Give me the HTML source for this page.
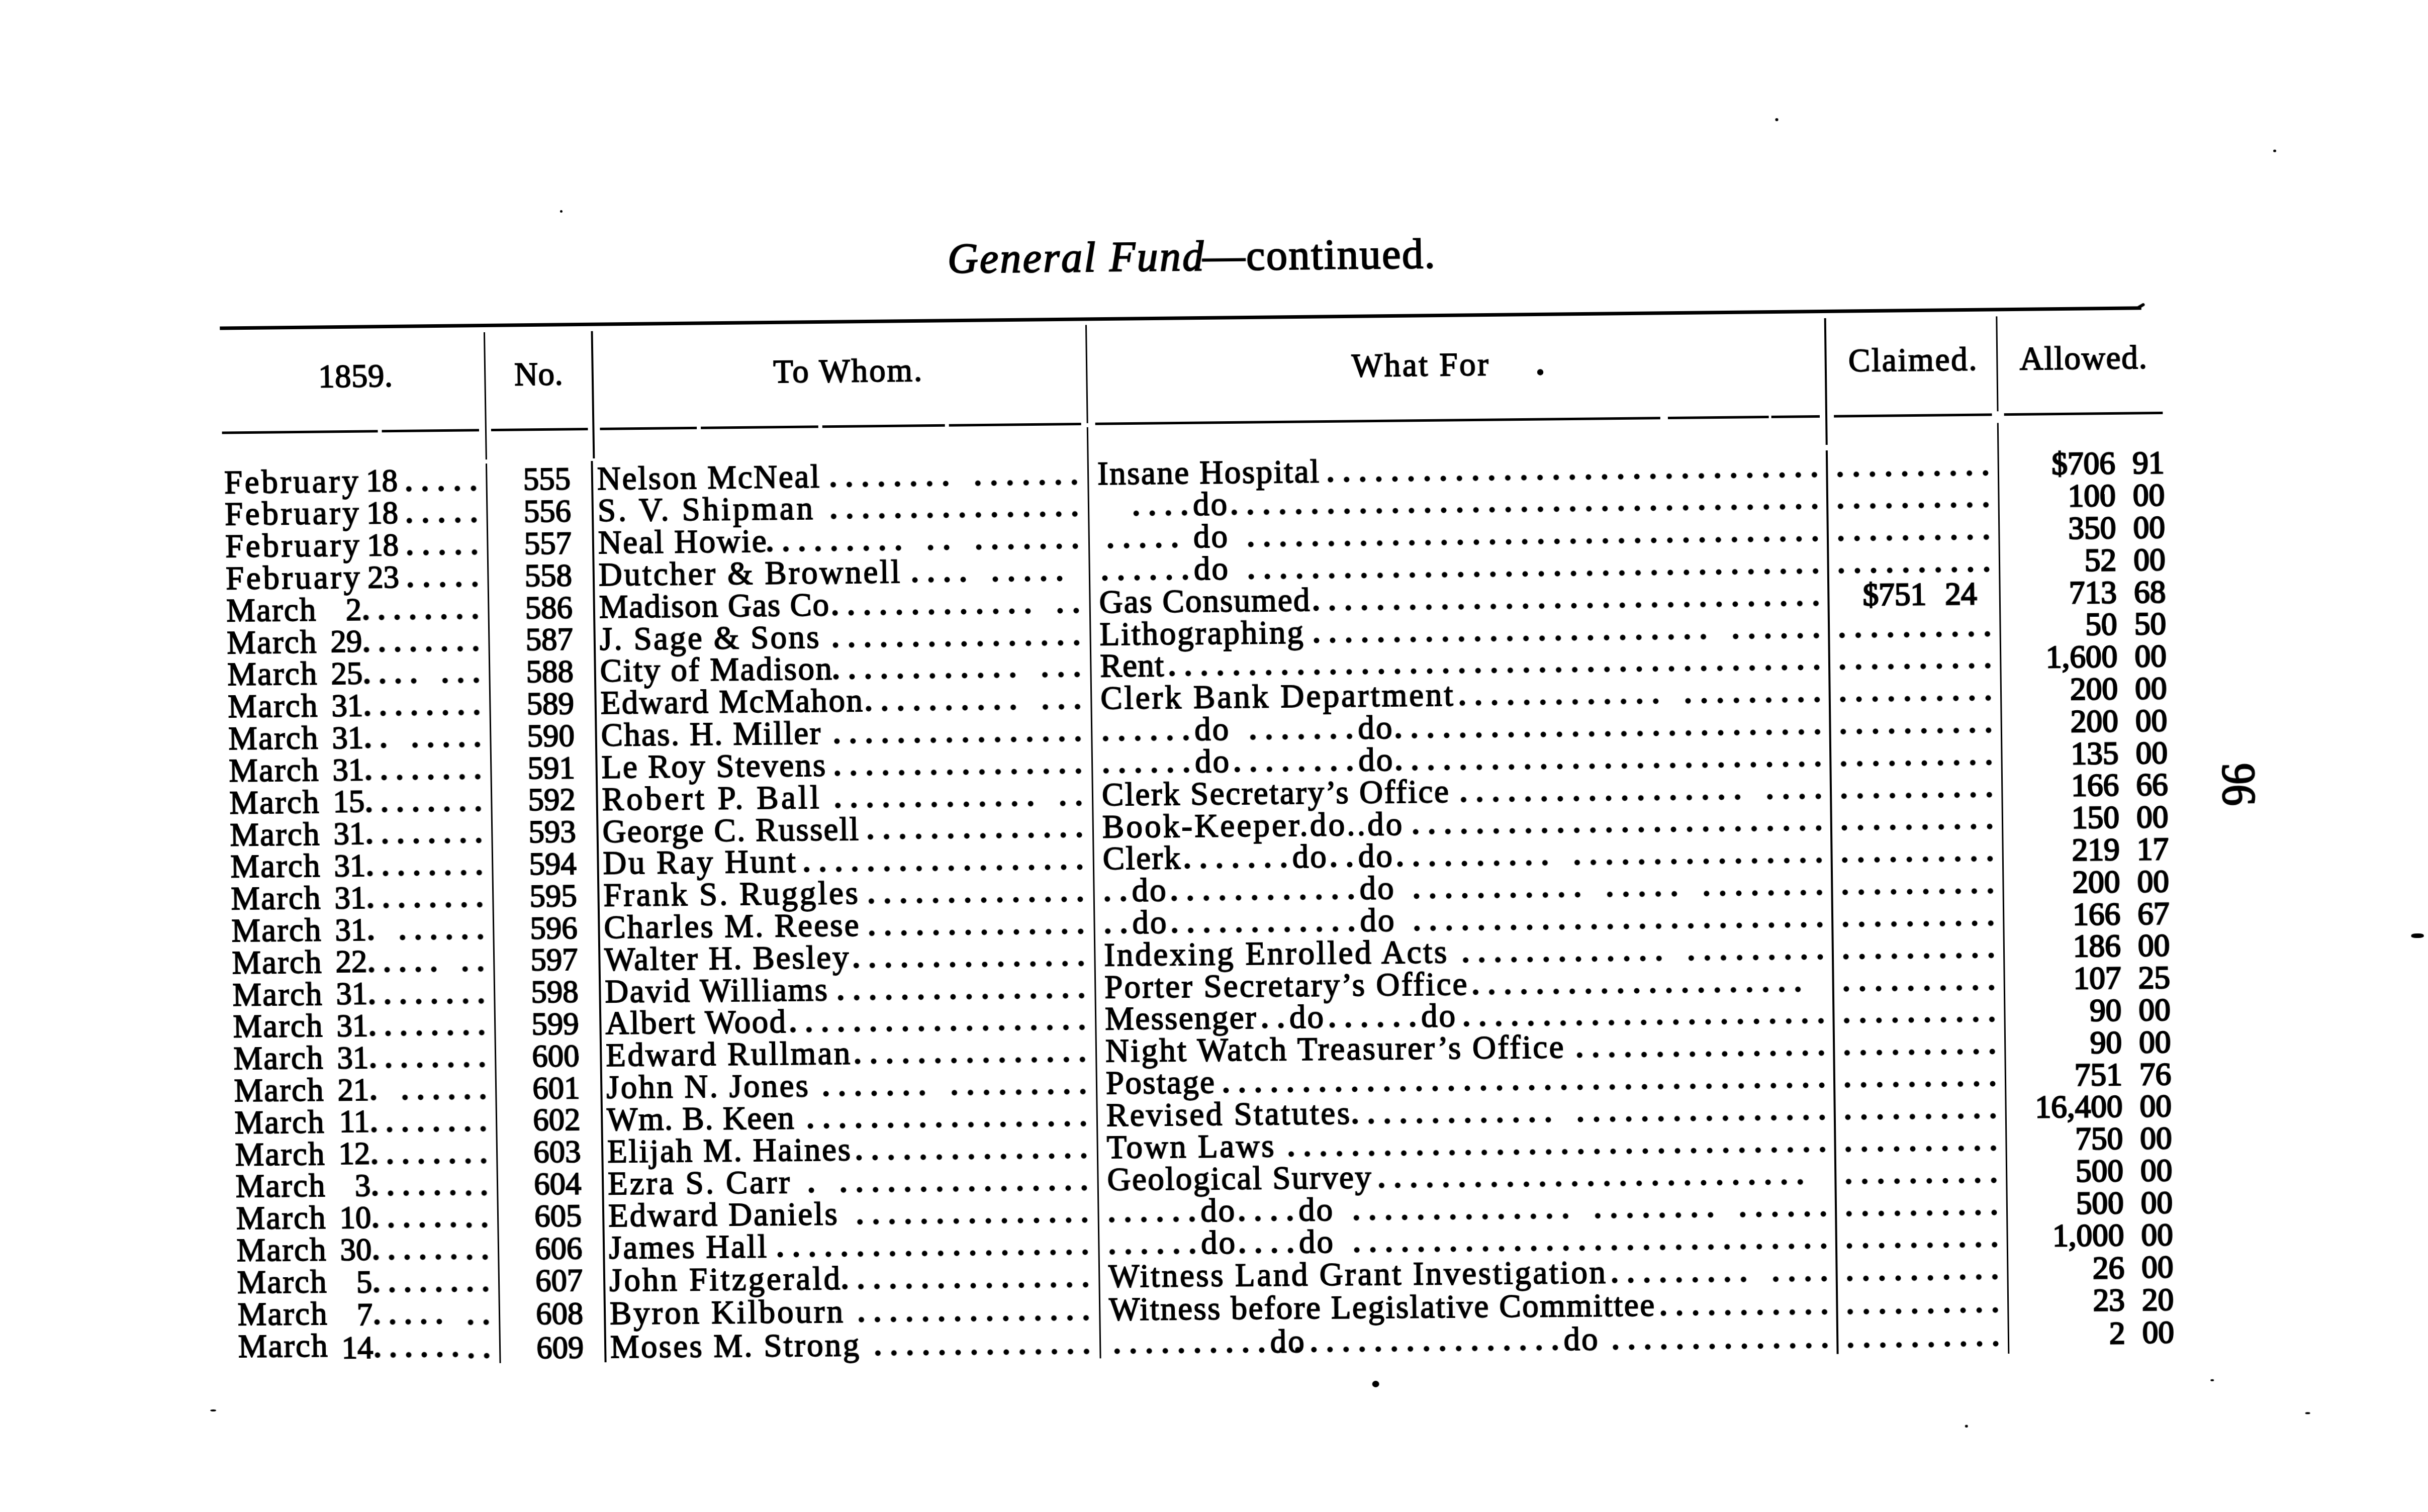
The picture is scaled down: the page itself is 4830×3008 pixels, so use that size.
<!DOCTYPE html>
<html><head><meta charset="utf-8"><title>General Fund continued</title><style>
html,body{margin:0;padding:0;background:#fff;}
body{width:4830px;height:3008px;overflow:hidden;position:relative;}
#pg{position:absolute;left:0;top:0;width:4830px;height:3008px;transform-origin:0 0;transform:matrix3d(0.99610535,-0.01129445,0,-0.0000012431,0.01662082,1.00144269,0,0.0000012519,0,0,1,0,-25.35881,24.88257,0,1.00000000);}
.t{position:absolute;font-family:"Liberation Serif",serif;line-height:1;white-space:pre;color:#000;transform-origin:0 0;-webkit-text-stroke:1.8px #000;}
.t.r{transform-origin:100% 0;}
.t.n{-webkit-text-stroke:2.0px #000;}
.t.nb{-webkit-text-stroke:2.6px #000;}
.rule,.sp{position:absolute;background:#000;}
.vr{position:absolute;width:3.8px;background:#000;}
.ld{position:absolute;height:32.0px;background-image:radial-gradient(circle at center,#000 4.8px,rgba(0,0,0,0) 6.0px);background-size:32.0px 32.0px;background-repeat:repeat-x;}
</style></head>
<body><div id="pg">
<div class="t" style="left:1906px;top:468.3px;font-size:84px;font-style:italic;letter-spacing:3.2px;-webkit-text-stroke:2.2px #000">General Fund</div>
<div class="t" style="left:2413px;top:468.3px;font-size:84px;letter-spacing:2.5px;-webkit-text-stroke:2.2px #000">—continued.</div>
<div class="rule" style="left:454px;top:628.5px;width:3818px;height:7px"></div>
<div class="rule" style="left:4266px;top:628.5px;width:16px;height:6px;border-radius:3px;transform:rotate(-30deg);transform-origin:0 100%"></div>
<div class="rule" style="left:455px;top:838px;width:311px;height:4.5px"></div>
<div class="rule" style="left:774px;top:838px;width:194px;height:4.5px"></div>
<div class="rule" style="left:992px;top:838px;width:193px;height:4.5px"></div>
<div class="rule" style="left:1209px;top:838px;width:193px;height:4.5px"></div>
<div class="rule" style="left:1410px;top:838px;width:234px;height:4.5px"></div>
<div class="rule" style="left:1652px;top:838px;width:244px;height:4.5px"></div>
<div class="rule" style="left:1904px;top:838px;width:263px;height:4.5px"></div>
<div class="rule" style="left:2195px;top:838px;width:1122px;height:4.5px"></div>
<div class="rule" style="left:3332px;top:838px;width:200px;height:4.5px"></div>
<div class="rule" style="left:3537px;top:838px;width:96px;height:4.5px"></div>
<div class="rule" style="left:3661px;top:838px;width:313px;height:4.5px"></div>
<div class="rule" style="left:3998px;top:838px;width:314px;height:4.5px"></div>
<div class="vr" style="left:979.7px;top:646px;height:253px"></div>
<div class="vr" style="left:979.7px;top:907px;height:1793px"></div>
<div class="vr" style="left:1194.1px;top:646px;height:253px"></div>
<div class="vr" style="left:1190.1px;top:904px;height:1796px"></div>
<div class="vr" style="left:2177.6px;top:644px;height:195px"></div>
<div class="vr" style="left:2177.6px;top:847px;height:1853px"></div>
<div class="vr" style="left:3644.1px;top:646px;height:251px"></div>
<div class="vr" style="left:3644.1px;top:908px;height:1795px"></div>
<div class="vr" style="left:3983.7px;top:646px;height:188px"></div>
<div class="vr" style="left:3983.7px;top:857px;height:1848px"></div>
<div class="t" style="left:649.0px;top:698.0px;font-size:65px;font-weight:normal;letter-spacing:0.5px;font-style:normal">1859.</div>
<div class="t" style="left:1040.0px;top:698.0px;font-size:65px;font-weight:normal;letter-spacing:0.5px;font-style:normal">No.</div>
<div class="t" style="left:1556.0px;top:698.0px;font-size:65px;font-weight:normal;letter-spacing:2.86px;font-style:normal">To Whom.</div>
<div class="t" style="left:2706.0px;top:698.0px;font-size:65px;font-weight:normal;letter-spacing:3.43px;font-style:normal">What For</div>
<div class="t" style="left:3691.0px;top:698.0px;font-size:65px;font-weight:normal;letter-spacing:2.57px;font-style:normal">Claimed.</div>
<div class="t" style="left:4030.0px;top:698.0px;font-size:65px;font-weight:normal;letter-spacing:1.71px;font-style:normal">Allowed.</div>
<div class="t" style="left:3072px;top:698.0px;font-size:65px;font-weight:bold">.</div>
<div class="t" style="left:458.0px;top:906.5px;font-size:65px;font-weight:normal;letter-spacing:4.71px;font-style:normal">February</div>
<div class="t n" style="left:741.0px;top:908.2px;font-size:63px;font-weight:normal;letter-spacing:0.0px;font-style:normal">18</div>
<div class="ld" style="left:809.9px;top:939.5px;width:161.2px;background-size:32.25px 32.0px"></div>
<div class="t r n" style="right:3681.0px;top:908.2px;font-size:63px;font-weight:normal;letter-spacing:0.0px">555</div>
<div class="t" style="left:1202.0px;top:906.5px;font-size:65px;font-weight:normal;letter-spacing:2.75px;font-style:normal">Nelson McNeal</div>
<div class="ld" style="left:1656.0px;top:939.5px;width:192.0px;background-size:32.00px 32.0px"></div>
<div class="ld" style="left:1848.0px;top:939.5px;width:64.0px;background-size:32.00px 32.0px"></div>
<div class="ld" style="left:1944.0px;top:939.5px;width:192.0px;background-size:32.00px 32.0px"></div>
<div class="ld" style="left:2136.0px;top:939.5px;width:32.0px;background-size:32.00px 32.0px"></div>
<div class="t" style="left:2198.0px;top:906.5px;font-size:65px;font-weight:normal;letter-spacing:2.46px;font-style:normal">Insane Hospital</div>
<div class="ld" style="left:2644.5px;top:939.5px;width:192.0px;background-size:32.00px 32.0px"></div>
<div class="ld" style="left:2836.5px;top:939.5px;width:192.0px;background-size:32.00px 32.0px"></div>
<div class="ld" style="left:3028.5px;top:939.5px;width:192.0px;background-size:32.00px 32.0px"></div>
<div class="ld" style="left:3220.5px;top:939.5px;width:192.0px;background-size:32.00px 32.0px"></div>
<div class="ld" style="left:3412.5px;top:939.5px;width:192.0px;background-size:32.00px 32.0px"></div>
<div class="ld" style="left:3604.5px;top:939.5px;width:32.0px;background-size:32.00px 32.0px"></div>
<div class="ld" style="left:3656.0px;top:939.5px;width:192.0px;background-size:32.00px 32.0px"></div>
<div class="ld" style="left:3848.0px;top:939.5px;width:128.0px;background-size:32.00px 32.0px"></div>
<div class="t r nb" style="right:613.0px;top:908.2px;font-size:63px;font-weight:normal;letter-spacing:0.0px">$706</div>
<div class="t r nb" style="right:516.0px;top:908.2px;font-size:63px;font-weight:normal;letter-spacing:0.0px">91</div>
<div class="t" style="left:458.0px;top:970.4px;font-size:65px;font-weight:normal;letter-spacing:4.71px;font-style:normal">February</div>
<div class="t n" style="left:741.0px;top:972.0px;font-size:63px;font-weight:normal;letter-spacing:0.0px;font-style:normal">18</div>
<div class="ld" style="left:809.9px;top:1003.3px;width:161.2px;background-size:32.25px 32.0px"></div>
<div class="t r n" style="right:3681.0px;top:972.0px;font-size:63px;font-weight:normal;letter-spacing:0.0px">556</div>
<div class="t" style="left:1202.0px;top:970.4px;font-size:65px;font-weight:normal;letter-spacing:4.92px;font-style:normal">S. V. Shipman</div>
<div class="ld" style="left:1656.0px;top:1003.3px;width:192.0px;background-size:32.00px 32.0px"></div>
<div class="ld" style="left:1848.0px;top:1003.3px;width:192.0px;background-size:32.00px 32.0px"></div>
<div class="ld" style="left:2040.0px;top:1003.3px;width:128.0px;background-size:32.00px 32.0px"></div>
<div class="ld" style="left:2258.0px;top:1003.3px;width:128.0px;background-size:32.00px 32.0px"></div>
<div class="t" style="left:2387.0px;top:970.4px;font-size:65px;font-weight:normal;letter-spacing:3.0px;font-style:normal">do</div>
<div class="ld" style="left:2452.5px;top:1003.3px;width:192.0px;background-size:32.00px 32.0px"></div>
<div class="ld" style="left:2644.5px;top:1003.3px;width:192.0px;background-size:32.00px 32.0px"></div>
<div class="ld" style="left:2836.5px;top:1003.3px;width:192.0px;background-size:32.00px 32.0px"></div>
<div class="ld" style="left:3028.5px;top:1003.3px;width:192.0px;background-size:32.00px 32.0px"></div>
<div class="ld" style="left:3220.5px;top:1003.3px;width:192.0px;background-size:32.00px 32.0px"></div>
<div class="ld" style="left:3412.5px;top:1003.3px;width:192.0px;background-size:32.00px 32.0px"></div>
<div class="ld" style="left:3604.5px;top:1003.3px;width:32.0px;background-size:32.00px 32.0px"></div>
<div class="ld" style="left:3656.0px;top:1003.3px;width:192.0px;background-size:32.00px 32.0px"></div>
<div class="ld" style="left:3848.0px;top:1003.3px;width:128.0px;background-size:32.00px 32.0px"></div>
<div class="t r nb" style="right:613.0px;top:972.0px;font-size:63px;font-weight:normal;letter-spacing:0.0px">100</div>
<div class="t r nb" style="right:516.0px;top:972.0px;font-size:63px;font-weight:normal;letter-spacing:0.0px">00</div>
<div class="t" style="left:458.0px;top:1034.2px;font-size:65px;font-weight:normal;letter-spacing:4.71px;font-style:normal">February</div>
<div class="t n" style="left:741.0px;top:1035.8px;font-size:63px;font-weight:normal;letter-spacing:0.0px;font-style:normal">18</div>
<div class="ld" style="left:809.9px;top:1067.1px;width:161.2px;background-size:32.25px 32.0px"></div>
<div class="t r n" style="right:3681.0px;top:1035.8px;font-size:63px;font-weight:normal;letter-spacing:0.0px">557</div>
<div class="t" style="left:1202.0px;top:1034.2px;font-size:65px;font-weight:normal;letter-spacing:2.56px;font-style:normal">Neal Howie</div>
<div class="ld" style="left:1528.0px;top:1067.1px;width:192.0px;background-size:32.00px 32.0px"></div>
<div class="ld" style="left:1720.0px;top:1067.1px;width:96.0px;background-size:32.00px 32.0px"></div>
<div class="ld" style="left:1848.0px;top:1067.1px;width:64.0px;background-size:32.00px 32.0px"></div>
<div class="ld" style="left:1944.0px;top:1067.1px;width:192.0px;background-size:32.00px 32.0px"></div>
<div class="ld" style="left:2136.0px;top:1067.1px;width:32.0px;background-size:32.00px 32.0px"></div>
<div class="ld" style="left:2206.0px;top:1067.1px;width:160.0px;background-size:32.00px 32.0px"></div>
<div class="t" style="left:2387.0px;top:1034.2px;font-size:65px;font-weight:normal;letter-spacing:3.0px;font-style:normal">do</div>
<div class="ld" style="left:2484.5px;top:1067.1px;width:192.0px;background-size:32.00px 32.0px"></div>
<div class="ld" style="left:2676.5px;top:1067.1px;width:192.0px;background-size:32.00px 32.0px"></div>
<div class="ld" style="left:2868.5px;top:1067.1px;width:192.0px;background-size:32.00px 32.0px"></div>
<div class="ld" style="left:3060.5px;top:1067.1px;width:192.0px;background-size:32.00px 32.0px"></div>
<div class="ld" style="left:3252.5px;top:1067.1px;width:192.0px;background-size:32.00px 32.0px"></div>
<div class="ld" style="left:3444.5px;top:1067.1px;width:192.0px;background-size:32.00px 32.0px"></div>
<div class="ld" style="left:3656.0px;top:1067.1px;width:192.0px;background-size:32.00px 32.0px"></div>
<div class="ld" style="left:3848.0px;top:1067.1px;width:128.0px;background-size:32.00px 32.0px"></div>
<div class="t r nb" style="right:613.0px;top:1035.8px;font-size:63px;font-weight:normal;letter-spacing:0.0px">350</div>
<div class="t r nb" style="right:516.0px;top:1035.8px;font-size:63px;font-weight:normal;letter-spacing:0.0px">00</div>
<div class="t" style="left:458.0px;top:1098.0px;font-size:65px;font-weight:normal;letter-spacing:4.71px;font-style:normal">February</div>
<div class="t n" style="left:741.0px;top:1099.6px;font-size:63px;font-weight:normal;letter-spacing:0.0px;font-style:normal">23</div>
<div class="ld" style="left:809.9px;top:1130.9px;width:161.2px;background-size:32.25px 32.0px"></div>
<div class="t r n" style="right:3681.0px;top:1099.6px;font-size:63px;font-weight:normal;letter-spacing:0.0px">558</div>
<div class="t" style="left:1202.0px;top:1098.0px;font-size:65px;font-weight:normal;letter-spacing:3.88px;font-style:normal">Dutcher &amp; Brownell</div>
<div class="ld" style="left:1816.0px;top:1130.9px;width:128.0px;background-size:32.00px 32.0px"></div>
<div class="ld" style="left:1976.0px;top:1130.9px;width:160.0px;background-size:32.00px 32.0px"></div>
<div class="ld" style="left:2194.0px;top:1130.9px;width:192.0px;background-size:32.00px 32.0px"></div>
<div class="t" style="left:2387.0px;top:1098.0px;font-size:65px;font-weight:normal;letter-spacing:3.0px;font-style:normal">do</div>
<div class="ld" style="left:2484.5px;top:1130.9px;width:192.0px;background-size:32.00px 32.0px"></div>
<div class="ld" style="left:2676.5px;top:1130.9px;width:192.0px;background-size:32.00px 32.0px"></div>
<div class="ld" style="left:2868.5px;top:1130.9px;width:192.0px;background-size:32.00px 32.0px"></div>
<div class="ld" style="left:3060.5px;top:1130.9px;width:192.0px;background-size:32.00px 32.0px"></div>
<div class="ld" style="left:3252.5px;top:1130.9px;width:192.0px;background-size:32.00px 32.0px"></div>
<div class="ld" style="left:3444.5px;top:1130.9px;width:192.0px;background-size:32.00px 32.0px"></div>
<div class="ld" style="left:3656.0px;top:1130.9px;width:192.0px;background-size:32.00px 32.0px"></div>
<div class="ld" style="left:3848.0px;top:1130.9px;width:128.0px;background-size:32.00px 32.0px"></div>
<div class="t r nb" style="right:613.0px;top:1099.6px;font-size:63px;font-weight:normal;letter-spacing:0.0px">52</div>
<div class="t r nb" style="right:516.0px;top:1099.6px;font-size:63px;font-weight:normal;letter-spacing:0.0px">00</div>
<div class="t" style="left:458.0px;top:1161.8px;font-size:65px;font-weight:normal;letter-spacing:2.25px;font-style:normal">March</div>
<div class="t n" style="left:696.5px;top:1163.5px;font-size:63px;font-weight:normal;letter-spacing:0.0px;font-style:normal">2</div>
<div class="ld" style="left:721.4px;top:1194.7px;width:186.9px;background-size:31.14px 32.0px"></div>
<div class="ld" style="left:908.3px;top:1194.7px;width:62.3px;background-size:31.14px 32.0px"></div>
<div class="t r n" style="right:3681.0px;top:1163.5px;font-size:63px;font-weight:normal;letter-spacing:0.0px">586</div>
<div class="t" style="left:1202.0px;top:1161.8px;font-size:65px;font-weight:normal;letter-spacing:1.62px;font-style:normal">Madison Gas Co</div>
<div class="ld" style="left:1656.0px;top:1194.7px;width:192.0px;background-size:32.00px 32.0px"></div>
<div class="ld" style="left:1848.0px;top:1194.7px;width:192.0px;background-size:32.00px 32.0px"></div>
<div class="ld" style="left:2040.0px;top:1194.7px;width:32.0px;background-size:32.00px 32.0px"></div>
<div class="ld" style="left:2104.0px;top:1194.7px;width:64.0px;background-size:32.00px 32.0px"></div>
<div class="t" style="left:2198.0px;top:1161.8px;font-size:65px;font-weight:normal;letter-spacing:2.09px;font-style:normal">Gas Consumed</div>
<div class="ld" style="left:2612.5px;top:1194.7px;width:192.0px;background-size:32.00px 32.0px"></div>
<div class="ld" style="left:2804.5px;top:1194.7px;width:192.0px;background-size:32.00px 32.0px"></div>
<div class="ld" style="left:2996.5px;top:1194.7px;width:192.0px;background-size:32.00px 32.0px"></div>
<div class="ld" style="left:3188.5px;top:1194.7px;width:192.0px;background-size:32.00px 32.0px"></div>
<div class="ld" style="left:3380.5px;top:1194.7px;width:192.0px;background-size:32.00px 32.0px"></div>
<div class="ld" style="left:3572.5px;top:1194.7px;width:64.0px;background-size:32.00px 32.0px"></div>
<div class="t r nb" style="right:990.0px;top:1163.5px;font-size:63px;font-weight:normal;letter-spacing:0.0px">$751</div>
<div class="t r nb" style="right:890.0px;top:1163.5px;font-size:63px;font-weight:normal;letter-spacing:0.0px">24</div>
<div class="t r nb" style="right:613.0px;top:1163.5px;font-size:63px;font-weight:normal;letter-spacing:0.0px">713</div>
<div class="t r nb" style="right:516.0px;top:1163.5px;font-size:63px;font-weight:normal;letter-spacing:0.0px">68</div>
<div class="t" style="left:458.0px;top:1225.6px;font-size:65px;font-weight:normal;letter-spacing:2.25px;font-style:normal">March</div>
<div class="t n" style="left:665.0px;top:1227.3px;font-size:63px;font-weight:normal;letter-spacing:0.0px;font-style:normal">29</div>
<div class="ld" style="left:721.4px;top:1258.5px;width:186.9px;background-size:31.14px 32.0px"></div>
<div class="ld" style="left:908.3px;top:1258.5px;width:62.3px;background-size:31.14px 32.0px"></div>
<div class="t r n" style="right:3681.0px;top:1227.3px;font-size:63px;font-weight:normal;letter-spacing:0.0px">587</div>
<div class="t" style="left:1202.0px;top:1225.6px;font-size:65px;font-weight:normal;letter-spacing:3.38px;font-style:normal">J. Sage &amp; Sons</div>
<div class="ld" style="left:1656.0px;top:1258.5px;width:192.0px;background-size:32.00px 32.0px"></div>
<div class="ld" style="left:1848.0px;top:1258.5px;width:192.0px;background-size:32.00px 32.0px"></div>
<div class="ld" style="left:2040.0px;top:1258.5px;width:128.0px;background-size:32.00px 32.0px"></div>
<div class="t" style="left:2198.0px;top:1225.6px;font-size:65px;font-weight:normal;letter-spacing:2.75px;font-style:normal">Lithographing</div>
<div class="ld" style="left:2612.5px;top:1258.5px;width:192.0px;background-size:32.00px 32.0px"></div>
<div class="ld" style="left:2804.5px;top:1258.5px;width:192.0px;background-size:32.00px 32.0px"></div>
<div class="ld" style="left:2996.5px;top:1258.5px;width:192.0px;background-size:32.00px 32.0px"></div>
<div class="ld" style="left:3188.5px;top:1258.5px;width:192.0px;background-size:32.00px 32.0px"></div>
<div class="ld" style="left:3380.5px;top:1258.5px;width:32.0px;background-size:32.00px 32.0px"></div>
<div class="ld" style="left:3444.5px;top:1258.5px;width:192.0px;background-size:32.00px 32.0px"></div>
<div class="ld" style="left:3656.0px;top:1258.5px;width:192.0px;background-size:32.00px 32.0px"></div>
<div class="ld" style="left:3848.0px;top:1258.5px;width:128.0px;background-size:32.00px 32.0px"></div>
<div class="t r nb" style="right:613.0px;top:1227.3px;font-size:63px;font-weight:normal;letter-spacing:0.0px">50</div>
<div class="t r nb" style="right:516.0px;top:1227.3px;font-size:63px;font-weight:normal;letter-spacing:0.0px">50</div>
<div class="t" style="left:458.0px;top:1289.4px;font-size:65px;font-weight:normal;letter-spacing:2.25px;font-style:normal">March</div>
<div class="t n" style="left:665.0px;top:1291.1px;font-size:63px;font-weight:normal;letter-spacing:0.0px;font-style:normal">25</div>
<div class="ld" style="left:721.4px;top:1322.4px;width:124.6px;background-size:31.14px 32.0px"></div>
<div class="ld" style="left:877.1px;top:1322.4px;width:93.4px;background-size:31.14px 32.0px"></div>
<div class="t r n" style="right:3681.0px;top:1291.1px;font-size:63px;font-weight:normal;letter-spacing:0.0px">588</div>
<div class="t" style="left:1202.0px;top:1289.4px;font-size:65px;font-weight:normal;letter-spacing:2.57px;font-style:normal">City of Madison</div>
<div class="ld" style="left:1656.0px;top:1322.4px;width:192.0px;background-size:32.00px 32.0px"></div>
<div class="ld" style="left:1848.0px;top:1322.4px;width:192.0px;background-size:32.00px 32.0px"></div>
<div class="ld" style="left:2072.0px;top:1322.4px;width:96.0px;background-size:32.00px 32.0px"></div>
<div class="t" style="left:2198.0px;top:1289.4px;font-size:65px;font-weight:normal;letter-spacing:1.33px;font-style:normal">Rent</div>
<div class="ld" style="left:2324.5px;top:1322.4px;width:192.0px;background-size:32.00px 32.0px"></div>
<div class="ld" style="left:2516.5px;top:1322.4px;width:192.0px;background-size:32.00px 32.0px"></div>
<div class="ld" style="left:2708.5px;top:1322.4px;width:192.0px;background-size:32.00px 32.0px"></div>
<div class="ld" style="left:2900.5px;top:1322.4px;width:192.0px;background-size:32.00px 32.0px"></div>
<div class="ld" style="left:3092.5px;top:1322.4px;width:192.0px;background-size:32.00px 32.0px"></div>
<div class="ld" style="left:3284.5px;top:1322.4px;width:192.0px;background-size:32.00px 32.0px"></div>
<div class="ld" style="left:3476.5px;top:1322.4px;width:160.0px;background-size:32.00px 32.0px"></div>
<div class="ld" style="left:3656.0px;top:1322.4px;width:192.0px;background-size:32.00px 32.0px"></div>
<div class="ld" style="left:3848.0px;top:1322.4px;width:128.0px;background-size:32.00px 32.0px"></div>
<div class="t r nb" style="right:613.0px;top:1291.1px;font-size:63px;font-weight:normal;letter-spacing:0.0px">1,600</div>
<div class="t r nb" style="right:516.0px;top:1291.1px;font-size:63px;font-weight:normal;letter-spacing:0.0px">00</div>
<div class="t" style="left:458.0px;top:1353.2px;font-size:65px;font-weight:normal;letter-spacing:2.25px;font-style:normal">March</div>
<div class="t n" style="left:665.0px;top:1354.9px;font-size:63px;font-weight:normal;letter-spacing:0.0px;font-style:normal">31</div>
<div class="ld" style="left:721.4px;top:1386.2px;width:186.9px;background-size:31.14px 32.0px"></div>
<div class="ld" style="left:908.3px;top:1386.2px;width:62.3px;background-size:31.14px 32.0px"></div>
<div class="t r n" style="right:3681.0px;top:1354.9px;font-size:63px;font-weight:normal;letter-spacing:0.0px">589</div>
<div class="t" style="left:1202.0px;top:1353.2px;font-size:65px;font-weight:normal;letter-spacing:2.54px;font-style:normal">Edward McMahon</div>
<div class="ld" style="left:1720.0px;top:1386.2px;width:192.0px;background-size:32.00px 32.0px"></div>
<div class="ld" style="left:1912.0px;top:1386.2px;width:128.0px;background-size:32.00px 32.0px"></div>
<div class="ld" style="left:2072.0px;top:1386.2px;width:96.0px;background-size:32.00px 32.0px"></div>
<div class="t" style="left:2198.0px;top:1353.2px;font-size:65px;font-weight:normal;letter-spacing:4.0px;font-style:normal">Clerk Bank Department</div>
<div class="ld" style="left:2900.5px;top:1386.2px;width:192.0px;background-size:32.00px 32.0px"></div>
<div class="ld" style="left:3092.5px;top:1386.2px;width:192.0px;background-size:32.00px 32.0px"></div>
<div class="ld" style="left:3284.5px;top:1386.2px;width:32.0px;background-size:32.00px 32.0px"></div>
<div class="ld" style="left:3348.5px;top:1386.2px;width:192.0px;background-size:32.00px 32.0px"></div>
<div class="ld" style="left:3540.5px;top:1386.2px;width:96.0px;background-size:32.00px 32.0px"></div>
<div class="ld" style="left:3656.0px;top:1386.2px;width:192.0px;background-size:32.00px 32.0px"></div>
<div class="ld" style="left:3848.0px;top:1386.2px;width:128.0px;background-size:32.00px 32.0px"></div>
<div class="t r nb" style="right:613.0px;top:1354.9px;font-size:63px;font-weight:normal;letter-spacing:0.0px">200</div>
<div class="t r nb" style="right:516.0px;top:1354.9px;font-size:63px;font-weight:normal;letter-spacing:0.0px">00</div>
<div class="t" style="left:458.0px;top:1417.0px;font-size:65px;font-weight:normal;letter-spacing:2.25px;font-style:normal">March</div>
<div class="t n" style="left:665.0px;top:1418.7px;font-size:63px;font-weight:normal;letter-spacing:0.0px;font-style:normal">31</div>
<div class="ld" style="left:721.4px;top:1450.0px;width:62.3px;background-size:31.14px 32.0px"></div>
<div class="ld" style="left:814.9px;top:1450.0px;width:155.7px;background-size:31.14px 32.0px"></div>
<div class="t r n" style="right:3681.0px;top:1418.7px;font-size:63px;font-weight:normal;letter-spacing:0.0px">590</div>
<div class="t" style="left:1202.0px;top:1417.0px;font-size:65px;font-weight:normal;letter-spacing:2.36px;font-style:normal">Chas. H. Miller</div>
<div class="ld" style="left:1656.0px;top:1450.0px;width:192.0px;background-size:32.00px 32.0px"></div>
<div class="ld" style="left:1848.0px;top:1450.0px;width:192.0px;background-size:32.00px 32.0px"></div>
<div class="ld" style="left:2040.0px;top:1450.0px;width:128.0px;background-size:32.00px 32.0px"></div>
<div class="ld" style="left:2191.0px;top:1450.0px;width:192.0px;background-size:32.00px 32.0px"></div>
<div class="t" style="left:2384.0px;top:1417.0px;font-size:65px;font-weight:normal;letter-spacing:3.0px;font-style:normal">do</div>
<div class="ld" style="left:2484.0px;top:1450.0px;width:192.0px;background-size:32.00px 32.0px"></div>
<div class="ld" style="left:2676.0px;top:1450.0px;width:32.0px;background-size:32.00px 32.0px"></div>
<div class="t" style="left:2709.0px;top:1417.0px;font-size:65px;font-weight:normal;letter-spacing:3.0px;font-style:normal">do</div>
<div class="ld" style="left:2772.5px;top:1450.0px;width:192.0px;background-size:32.00px 32.0px"></div>
<div class="ld" style="left:2964.5px;top:1450.0px;width:192.0px;background-size:32.00px 32.0px"></div>
<div class="ld" style="left:3156.5px;top:1450.0px;width:192.0px;background-size:32.00px 32.0px"></div>
<div class="ld" style="left:3348.5px;top:1450.0px;width:192.0px;background-size:32.00px 32.0px"></div>
<div class="ld" style="left:3540.5px;top:1450.0px;width:96.0px;background-size:32.00px 32.0px"></div>
<div class="ld" style="left:3656.0px;top:1450.0px;width:192.0px;background-size:32.00px 32.0px"></div>
<div class="ld" style="left:3848.0px;top:1450.0px;width:128.0px;background-size:32.00px 32.0px"></div>
<div class="t r nb" style="right:613.0px;top:1418.7px;font-size:63px;font-weight:normal;letter-spacing:0.0px">200</div>
<div class="t r nb" style="right:516.0px;top:1418.7px;font-size:63px;font-weight:normal;letter-spacing:0.0px">00</div>
<div class="t" style="left:458.0px;top:1480.8px;font-size:65px;font-weight:normal;letter-spacing:2.25px;font-style:normal">March</div>
<div class="t n" style="left:665.0px;top:1482.5px;font-size:63px;font-weight:normal;letter-spacing:0.0px;font-style:normal">31</div>
<div class="ld" style="left:721.4px;top:1513.8px;width:186.9px;background-size:31.14px 32.0px"></div>
<div class="ld" style="left:908.3px;top:1513.8px;width:62.3px;background-size:31.14px 32.0px"></div>
<div class="t r n" style="right:3681.0px;top:1482.5px;font-size:63px;font-weight:normal;letter-spacing:0.0px">591</div>
<div class="t" style="left:1202.0px;top:1480.8px;font-size:65px;font-weight:normal;letter-spacing:2.69px;font-style:normal">Le Roy Stevens</div>
<div class="ld" style="left:1656.0px;top:1513.8px;width:192.0px;background-size:32.00px 32.0px"></div>
<div class="ld" style="left:1848.0px;top:1513.8px;width:192.0px;background-size:32.00px 32.0px"></div>
<div class="ld" style="left:2040.0px;top:1513.8px;width:128.0px;background-size:32.00px 32.0px"></div>
<div class="ld" style="left:2191.0px;top:1513.8px;width:192.0px;background-size:32.00px 32.0px"></div>
<div class="t" style="left:2384.0px;top:1480.8px;font-size:65px;font-weight:normal;letter-spacing:3.0px;font-style:normal">do</div>
<div class="ld" style="left:2452.0px;top:1513.8px;width:192.0px;background-size:32.00px 32.0px"></div>
<div class="ld" style="left:2644.0px;top:1513.8px;width:64.0px;background-size:32.00px 32.0px"></div>
<div class="t" style="left:2709.0px;top:1480.8px;font-size:65px;font-weight:normal;letter-spacing:3.0px;font-style:normal">do</div>
<div class="ld" style="left:2772.5px;top:1513.8px;width:192.0px;background-size:32.00px 32.0px"></div>
<div class="ld" style="left:2964.5px;top:1513.8px;width:192.0px;background-size:32.00px 32.0px"></div>
<div class="ld" style="left:3156.5px;top:1513.8px;width:192.0px;background-size:32.00px 32.0px"></div>
<div class="ld" style="left:3348.5px;top:1513.8px;width:192.0px;background-size:32.00px 32.0px"></div>
<div class="ld" style="left:3540.5px;top:1513.8px;width:96.0px;background-size:32.00px 32.0px"></div>
<div class="ld" style="left:3656.0px;top:1513.8px;width:192.0px;background-size:32.00px 32.0px"></div>
<div class="ld" style="left:3848.0px;top:1513.8px;width:128.0px;background-size:32.00px 32.0px"></div>
<div class="t r nb" style="right:613.0px;top:1482.5px;font-size:63px;font-weight:normal;letter-spacing:0.0px">135</div>
<div class="t r nb" style="right:516.0px;top:1482.5px;font-size:63px;font-weight:normal;letter-spacing:0.0px">00</div>
<div class="t" style="left:458.0px;top:1544.6px;font-size:65px;font-weight:normal;letter-spacing:2.25px;font-style:normal">March</div>
<div class="t n" style="left:665.0px;top:1546.3px;font-size:63px;font-weight:normal;letter-spacing:0.0px;font-style:normal">15</div>
<div class="ld" style="left:721.4px;top:1577.6px;width:186.9px;background-size:31.14px 32.0px"></div>
<div class="ld" style="left:908.3px;top:1577.6px;width:62.3px;background-size:31.14px 32.0px"></div>
<div class="t r n" style="right:3681.0px;top:1546.3px;font-size:63px;font-weight:normal;letter-spacing:0.0px">592</div>
<div class="t" style="left:1202.0px;top:1544.6px;font-size:65px;font-weight:normal;letter-spacing:5.38px;font-style:normal">Robert P. Ball</div>
<div class="ld" style="left:1656.0px;top:1577.6px;width:192.0px;background-size:32.00px 32.0px"></div>
<div class="ld" style="left:1848.0px;top:1577.6px;width:192.0px;background-size:32.00px 32.0px"></div>
<div class="ld" style="left:2040.0px;top:1577.6px;width:32.0px;background-size:32.00px 32.0px"></div>
<div class="ld" style="left:2104.0px;top:1577.6px;width:64.0px;background-size:32.00px 32.0px"></div>
<div class="t" style="left:2198.0px;top:1544.6px;font-size:65px;font-weight:normal;letter-spacing:2.57px;font-style:normal">Clerk Secretary’s Office</div>
<div class="ld" style="left:2900.5px;top:1577.6px;width:192.0px;background-size:32.00px 32.0px"></div>
<div class="ld" style="left:3092.5px;top:1577.6px;width:192.0px;background-size:32.00px 32.0px"></div>
<div class="ld" style="left:3284.5px;top:1577.6px;width:192.0px;background-size:32.00px 32.0px"></div>
<div class="ld" style="left:3508.5px;top:1577.6px;width:128.0px;background-size:32.00px 32.0px"></div>
<div class="ld" style="left:3656.0px;top:1577.6px;width:192.0px;background-size:32.00px 32.0px"></div>
<div class="ld" style="left:3848.0px;top:1577.6px;width:128.0px;background-size:32.00px 32.0px"></div>
<div class="t r nb" style="right:613.0px;top:1546.3px;font-size:63px;font-weight:normal;letter-spacing:0.0px">166</div>
<div class="t r nb" style="right:516.0px;top:1546.3px;font-size:63px;font-weight:normal;letter-spacing:0.0px">66</div>
<div class="t" style="left:458.0px;top:1608.5px;font-size:65px;font-weight:normal;letter-spacing:2.25px;font-style:normal">March</div>
<div class="t n" style="left:665.0px;top:1610.1px;font-size:63px;font-weight:normal;letter-spacing:0.0px;font-style:normal">31</div>
<div class="ld" style="left:721.4px;top:1641.4px;width:186.9px;background-size:31.14px 32.0px"></div>
<div class="ld" style="left:908.3px;top:1641.4px;width:62.3px;background-size:31.14px 32.0px"></div>
<div class="t r n" style="right:3681.0px;top:1610.1px;font-size:63px;font-weight:normal;letter-spacing:0.0px">593</div>
<div class="t" style="left:1202.0px;top:1608.5px;font-size:65px;font-weight:normal;letter-spacing:2.31px;font-style:normal">George C. Russell</div>
<div class="ld" style="left:1720.0px;top:1641.4px;width:192.0px;background-size:32.00px 32.0px"></div>
<div class="ld" style="left:1912.0px;top:1641.4px;width:192.0px;background-size:32.00px 32.0px"></div>
<div class="ld" style="left:2104.0px;top:1641.4px;width:64.0px;background-size:32.00px 32.0px"></div>
<div class="t" style="left:2198.0px;top:1608.5px;font-size:65px;font-weight:normal;letter-spacing:4.18px;font-style:normal">Book-Keeper.do..do</div>
<div class="ld" style="left:2804.5px;top:1641.4px;width:192.0px;background-size:32.00px 32.0px"></div>
<div class="ld" style="left:2996.5px;top:1641.4px;width:192.0px;background-size:32.00px 32.0px"></div>
<div class="ld" style="left:3188.5px;top:1641.4px;width:192.0px;background-size:32.00px 32.0px"></div>
<div class="ld" style="left:3380.5px;top:1641.4px;width:192.0px;background-size:32.00px 32.0px"></div>
<div class="ld" style="left:3572.5px;top:1641.4px;width:64.0px;background-size:32.00px 32.0px"></div>
<div class="ld" style="left:3656.0px;top:1641.4px;width:192.0px;background-size:32.00px 32.0px"></div>
<div class="ld" style="left:3848.0px;top:1641.4px;width:128.0px;background-size:32.00px 32.0px"></div>
<div class="t r nb" style="right:613.0px;top:1610.1px;font-size:63px;font-weight:normal;letter-spacing:0.0px">150</div>
<div class="t r nb" style="right:516.0px;top:1610.1px;font-size:63px;font-weight:normal;letter-spacing:0.0px">00</div>
<div class="t" style="left:458.0px;top:1672.3px;font-size:65px;font-weight:normal;letter-spacing:2.25px;font-style:normal">March</div>
<div class="t n" style="left:665.0px;top:1673.9px;font-size:63px;font-weight:normal;letter-spacing:0.0px;font-style:normal">31</div>
<div class="ld" style="left:721.4px;top:1705.2px;width:186.9px;background-size:31.14px 32.0px"></div>
<div class="ld" style="left:908.3px;top:1705.2px;width:62.3px;background-size:31.14px 32.0px"></div>
<div class="t r n" style="right:3681.0px;top:1673.9px;font-size:63px;font-weight:normal;letter-spacing:0.0px">594</div>
<div class="t" style="left:1202.0px;top:1672.3px;font-size:65px;font-weight:normal;letter-spacing:3.76px;font-style:normal">Du Ray Hunt</div>
<div class="ld" style="left:1592.0px;top:1705.2px;width:192.0px;background-size:32.00px 32.0px"></div>
<div class="ld" style="left:1784.0px;top:1705.2px;width:192.0px;background-size:32.00px 32.0px"></div>
<div class="ld" style="left:1976.0px;top:1705.2px;width:192.0px;background-size:32.00px 32.0px"></div>
<div class="t" style="left:2198.0px;top:1672.3px;font-size:65px;font-weight:normal;letter-spacing:2.5px;font-style:normal">Clerk</div>
<div class="ld" style="left:2350.0px;top:1705.2px;width:192.0px;background-size:32.00px 32.0px"></div>
<div class="ld" style="left:2542.0px;top:1705.2px;width:32.0px;background-size:32.00px 32.0px"></div>
<div class="t" style="left:2575.0px;top:1672.3px;font-size:65px;font-weight:normal;letter-spacing:3.0px;font-style:normal">do</div>
<div class="ld" style="left:2641.0px;top:1705.2px;width:64.0px;background-size:32.00px 32.0px"></div>
<div class="t" style="left:2706.0px;top:1672.3px;font-size:65px;font-weight:normal;letter-spacing:3.0px;font-style:normal">do</div>
<div class="ld" style="left:2772.5px;top:1705.2px;width:192.0px;background-size:32.00px 32.0px"></div>
<div class="ld" style="left:2964.5px;top:1705.2px;width:128.0px;background-size:32.00px 32.0px"></div>
<div class="ld" style="left:3124.5px;top:1705.2px;width:192.0px;background-size:32.00px 32.0px"></div>
<div class="ld" style="left:3316.5px;top:1705.2px;width:192.0px;background-size:32.00px 32.0px"></div>
<div class="ld" style="left:3508.5px;top:1705.2px;width:128.0px;background-size:32.00px 32.0px"></div>
<div class="ld" style="left:3656.0px;top:1705.2px;width:192.0px;background-size:32.00px 32.0px"></div>
<div class="ld" style="left:3848.0px;top:1705.2px;width:128.0px;background-size:32.00px 32.0px"></div>
<div class="t r nb" style="right:613.0px;top:1673.9px;font-size:63px;font-weight:normal;letter-spacing:0.0px">219</div>
<div class="t r nb" style="right:516.0px;top:1673.9px;font-size:63px;font-weight:normal;letter-spacing:0.0px">17</div>
<div class="t" style="left:458.0px;top:1736.1px;font-size:65px;font-weight:normal;letter-spacing:2.25px;font-style:normal">March</div>
<div class="t n" style="left:665.0px;top:1737.7px;font-size:63px;font-weight:normal;letter-spacing:0.0px;font-style:normal">31</div>
<div class="ld" style="left:721.4px;top:1769.0px;width:186.9px;background-size:31.14px 32.0px"></div>
<div class="ld" style="left:908.3px;top:1769.0px;width:62.3px;background-size:31.14px 32.0px"></div>
<div class="t r n" style="right:3681.0px;top:1737.7px;font-size:63px;font-weight:normal;letter-spacing:0.0px">595</div>
<div class="t" style="left:1202.0px;top:1736.1px;font-size:65px;font-weight:normal;letter-spacing:3.87px;font-style:normal">Frank S. Ruggles</div>
<div class="ld" style="left:1720.0px;top:1769.0px;width:192.0px;background-size:32.00px 32.0px"></div>
<div class="ld" style="left:1912.0px;top:1769.0px;width:192.0px;background-size:32.00px 32.0px"></div>
<div class="ld" style="left:2104.0px;top:1769.0px;width:64.0px;background-size:32.00px 32.0px"></div>
<div class="ld" style="left:2190.0px;top:1769.0px;width:64.0px;background-size:32.00px 32.0px"></div>
<div class="t" style="left:2255.0px;top:1736.1px;font-size:65px;font-weight:normal;letter-spacing:3.0px;font-style:normal">do</div>
<div class="ld" style="left:2323.0px;top:1769.0px;width:192.0px;background-size:32.00px 32.0px"></div>
<div class="ld" style="left:2515.0px;top:1769.0px;width:192.0px;background-size:32.00px 32.0px"></div>
<div class="t" style="left:2708.0px;top:1736.1px;font-size:65px;font-weight:normal;letter-spacing:3.0px;font-style:normal">do</div>
<div class="ld" style="left:2804.5px;top:1769.0px;width:192.0px;background-size:32.00px 32.0px"></div>
<div class="ld" style="left:2996.5px;top:1769.0px;width:160.0px;background-size:32.00px 32.0px"></div>
<div class="ld" style="left:3188.5px;top:1769.0px;width:160.0px;background-size:32.00px 32.0px"></div>
<div class="ld" style="left:3380.5px;top:1769.0px;width:192.0px;background-size:32.00px 32.0px"></div>
<div class="ld" style="left:3572.5px;top:1769.0px;width:64.0px;background-size:32.00px 32.0px"></div>
<div class="ld" style="left:3656.0px;top:1769.0px;width:192.0px;background-size:32.00px 32.0px"></div>
<div class="ld" style="left:3848.0px;top:1769.0px;width:128.0px;background-size:32.00px 32.0px"></div>
<div class="t r nb" style="right:613.0px;top:1737.7px;font-size:63px;font-weight:normal;letter-spacing:0.0px">200</div>
<div class="t r nb" style="right:516.0px;top:1737.7px;font-size:63px;font-weight:normal;letter-spacing:0.0px">00</div>
<div class="t" style="left:458.0px;top:1799.9px;font-size:65px;font-weight:normal;letter-spacing:2.25px;font-style:normal">March</div>
<div class="t n" style="left:665.0px;top:1801.6px;font-size:63px;font-weight:normal;letter-spacing:0.0px;font-style:normal">31</div>
<div class="ld" style="left:721.4px;top:1832.8px;width:31.1px;background-size:31.14px 32.0px"></div>
<div class="ld" style="left:783.7px;top:1832.8px;width:186.9px;background-size:31.14px 32.0px"></div>
<div class="t r n" style="right:3681.0px;top:1801.6px;font-size:63px;font-weight:normal;letter-spacing:0.0px">596</div>
<div class="t" style="left:1202.0px;top:1799.9px;font-size:65px;font-weight:normal;letter-spacing:3.2px;font-style:normal">Charles M. Reese</div>
<div class="ld" style="left:1720.0px;top:1832.8px;width:192.0px;background-size:32.00px 32.0px"></div>
<div class="ld" style="left:1912.0px;top:1832.8px;width:192.0px;background-size:32.00px 32.0px"></div>
<div class="ld" style="left:2104.0px;top:1832.8px;width:64.0px;background-size:32.00px 32.0px"></div>
<div class="ld" style="left:2190.0px;top:1832.8px;width:64.0px;background-size:32.00px 32.0px"></div>
<div class="t" style="left:2255.0px;top:1799.9px;font-size:65px;font-weight:normal;letter-spacing:3.0px;font-style:normal">do</div>
<div class="ld" style="left:2323.0px;top:1832.8px;width:192.0px;background-size:32.00px 32.0px"></div>
<div class="ld" style="left:2515.0px;top:1832.8px;width:192.0px;background-size:32.00px 32.0px"></div>
<div class="t" style="left:2708.0px;top:1799.9px;font-size:65px;font-weight:normal;letter-spacing:3.0px;font-style:normal">do</div>
<div class="ld" style="left:2804.5px;top:1832.8px;width:192.0px;background-size:32.00px 32.0px"></div>
<div class="ld" style="left:2996.5px;top:1832.8px;width:192.0px;background-size:32.00px 32.0px"></div>
<div class="ld" style="left:3188.5px;top:1832.8px;width:192.0px;background-size:32.00px 32.0px"></div>
<div class="ld" style="left:3380.5px;top:1832.8px;width:192.0px;background-size:32.00px 32.0px"></div>
<div class="ld" style="left:3572.5px;top:1832.8px;width:64.0px;background-size:32.00px 32.0px"></div>
<div class="ld" style="left:3656.0px;top:1832.8px;width:192.0px;background-size:32.00px 32.0px"></div>
<div class="ld" style="left:3848.0px;top:1832.8px;width:128.0px;background-size:32.00px 32.0px"></div>
<div class="t r nb" style="right:613.0px;top:1801.6px;font-size:63px;font-weight:normal;letter-spacing:0.0px">166</div>
<div class="t r nb" style="right:516.0px;top:1801.6px;font-size:63px;font-weight:normal;letter-spacing:0.0px">67</div>
<div class="t" style="left:458.0px;top:1863.7px;font-size:65px;font-weight:normal;letter-spacing:2.25px;font-style:normal">March</div>
<div class="t n" style="left:665.0px;top:1865.4px;font-size:63px;font-weight:normal;letter-spacing:0.0px;font-style:normal">22</div>
<div class="ld" style="left:721.4px;top:1896.7px;width:155.7px;background-size:31.14px 32.0px"></div>
<div class="ld" style="left:908.3px;top:1896.7px;width:62.3px;background-size:31.14px 32.0px"></div>
<div class="t r n" style="right:3681.0px;top:1865.4px;font-size:63px;font-weight:normal;letter-spacing:0.0px">597</div>
<div class="t" style="left:1202.0px;top:1863.7px;font-size:65px;font-weight:normal;letter-spacing:2.87px;font-style:normal">Walter H. Besley</div>
<div class="ld" style="left:1688.0px;top:1896.7px;width:192.0px;background-size:32.00px 32.0px"></div>
<div class="ld" style="left:1880.0px;top:1896.7px;width:192.0px;background-size:32.00px 32.0px"></div>
<div class="ld" style="left:2072.0px;top:1896.7px;width:96.0px;background-size:32.00px 32.0px"></div>
<div class="t" style="left:2198.0px;top:1863.7px;font-size:65px;font-weight:normal;letter-spacing:3.76px;font-style:normal">Indexing Enrolled Acts</div>
<div class="ld" style="left:2900.5px;top:1896.7px;width:192.0px;background-size:32.00px 32.0px"></div>
<div class="ld" style="left:3092.5px;top:1896.7px;width:192.0px;background-size:32.00px 32.0px"></div>
<div class="ld" style="left:3284.5px;top:1896.7px;width:32.0px;background-size:32.00px 32.0px"></div>
<div class="ld" style="left:3348.5px;top:1896.7px;width:192.0px;background-size:32.00px 32.0px"></div>
<div class="ld" style="left:3540.5px;top:1896.7px;width:96.0px;background-size:32.00px 32.0px"></div>
<div class="ld" style="left:3656.0px;top:1896.7px;width:192.0px;background-size:32.00px 32.0px"></div>
<div class="ld" style="left:3848.0px;top:1896.7px;width:128.0px;background-size:32.00px 32.0px"></div>
<div class="t r nb" style="right:613.0px;top:1865.4px;font-size:63px;font-weight:normal;letter-spacing:0.0px">186</div>
<div class="t r nb" style="right:516.0px;top:1865.4px;font-size:63px;font-weight:normal;letter-spacing:0.0px">00</div>
<div class="t" style="left:458.0px;top:1927.5px;font-size:65px;font-weight:normal;letter-spacing:2.25px;font-style:normal">March</div>
<div class="t n" style="left:665.0px;top:1929.2px;font-size:63px;font-weight:normal;letter-spacing:0.0px;font-style:normal">31</div>
<div class="ld" style="left:721.4px;top:1960.5px;width:186.9px;background-size:31.14px 32.0px"></div>
<div class="ld" style="left:908.3px;top:1960.5px;width:62.3px;background-size:31.14px 32.0px"></div>
<div class="t r n" style="right:3681.0px;top:1929.2px;font-size:63px;font-weight:normal;letter-spacing:0.0px">598</div>
<div class="t" style="left:1202.0px;top:1927.5px;font-size:65px;font-weight:normal;letter-spacing:2.62px;font-style:normal">David Williams</div>
<div class="ld" style="left:1656.0px;top:1960.5px;width:192.0px;background-size:32.00px 32.0px"></div>
<div class="ld" style="left:1848.0px;top:1960.5px;width:192.0px;background-size:32.00px 32.0px"></div>
<div class="ld" style="left:2040.0px;top:1960.5px;width:128.0px;background-size:32.00px 32.0px"></div>
<div class="t" style="left:2198.0px;top:1927.5px;font-size:65px;font-weight:normal;letter-spacing:3.17px;font-style:normal">Porter Secretary’s Office</div>
<div class="ld" style="left:2920.0px;top:1960.5px;width:192.0px;background-size:32.00px 32.0px"></div>
<div class="ld" style="left:3112.0px;top:1960.5px;width:192.0px;background-size:32.00px 32.0px"></div>
<div class="ld" style="left:3304.0px;top:1960.5px;width:192.0px;background-size:32.00px 32.0px"></div>
<div class="ld" style="left:3496.0px;top:1960.5px;width:96.0px;background-size:32.00px 32.0px"></div>
<div class="ld" style="left:3656.0px;top:1960.5px;width:192.0px;background-size:32.00px 32.0px"></div>
<div class="ld" style="left:3848.0px;top:1960.5px;width:128.0px;background-size:32.00px 32.0px"></div>
<div class="t r nb" style="right:613.0px;top:1929.2px;font-size:63px;font-weight:normal;letter-spacing:0.0px">107</div>
<div class="t r nb" style="right:516.0px;top:1929.2px;font-size:63px;font-weight:normal;letter-spacing:0.0px">25</div>
<div class="t" style="left:458.0px;top:1991.3px;font-size:65px;font-weight:normal;letter-spacing:2.25px;font-style:normal">March</div>
<div class="t n" style="left:665.0px;top:1993.0px;font-size:63px;font-weight:normal;letter-spacing:0.0px;font-style:normal">31</div>
<div class="ld" style="left:721.4px;top:2024.3px;width:186.9px;background-size:31.14px 32.0px"></div>
<div class="ld" style="left:908.3px;top:2024.3px;width:62.3px;background-size:31.14px 32.0px"></div>
<div class="t r n" style="right:3681.0px;top:1993.0px;font-size:63px;font-weight:normal;letter-spacing:0.0px">599</div>
<div class="t" style="left:1202.0px;top:1991.3px;font-size:65px;font-weight:normal;letter-spacing:2.5px;font-style:normal">Albert Wood</div>
<div class="ld" style="left:1560.0px;top:2024.3px;width:192.0px;background-size:32.00px 32.0px"></div>
<div class="ld" style="left:1752.0px;top:2024.3px;width:192.0px;background-size:32.00px 32.0px"></div>
<div class="ld" style="left:1944.0px;top:2024.3px;width:192.0px;background-size:32.00px 32.0px"></div>
<div class="ld" style="left:2136.0px;top:2024.3px;width:32.0px;background-size:32.00px 32.0px"></div>
<div class="t" style="left:2198.0px;top:1991.3px;font-size:65px;font-weight:normal;letter-spacing:2.38px;font-style:normal">Messenger</div>
<div class="ld" style="left:2500.0px;top:2024.3px;width:64.0px;background-size:32.00px 32.0px"></div>
<div class="t" style="left:2565.0px;top:1991.3px;font-size:65px;font-weight:normal;letter-spacing:3.0px;font-style:normal">do</div>
<div class="ld" style="left:2634.0px;top:2024.3px;width:192.0px;background-size:32.00px 32.0px"></div>
<div class="t" style="left:2827.0px;top:1991.3px;font-size:65px;font-weight:normal;letter-spacing:3.0px;font-style:normal">do</div>
<div class="ld" style="left:2900.5px;top:2024.3px;width:192.0px;background-size:32.00px 32.0px"></div>
<div class="ld" style="left:3092.5px;top:2024.3px;width:192.0px;background-size:32.00px 32.0px"></div>
<div class="ld" style="left:3284.5px;top:2024.3px;width:192.0px;background-size:32.00px 32.0px"></div>
<div class="ld" style="left:3476.5px;top:2024.3px;width:160.0px;background-size:32.00px 32.0px"></div>
<div class="ld" style="left:3656.0px;top:2024.3px;width:192.0px;background-size:32.00px 32.0px"></div>
<div class="ld" style="left:3848.0px;top:2024.3px;width:128.0px;background-size:32.00px 32.0px"></div>
<div class="t r nb" style="right:613.0px;top:1993.0px;font-size:63px;font-weight:normal;letter-spacing:0.0px">90</div>
<div class="t r nb" style="right:516.0px;top:1993.0px;font-size:63px;font-weight:normal;letter-spacing:0.0px">00</div>
<div class="t" style="left:458.0px;top:2055.1px;font-size:65px;font-weight:normal;letter-spacing:2.25px;font-style:normal">March</div>
<div class="t n" style="left:665.0px;top:2056.8px;font-size:63px;font-weight:normal;letter-spacing:0.0px;font-style:normal">31</div>
<div class="ld" style="left:721.4px;top:2088.1px;width:186.9px;background-size:31.14px 32.0px"></div>
<div class="ld" style="left:908.3px;top:2088.1px;width:62.3px;background-size:31.14px 32.0px"></div>
<div class="t r n" style="right:3681.0px;top:2056.8px;font-size:63px;font-weight:normal;letter-spacing:0.0px">600</div>
<div class="t" style="left:1202.0px;top:2055.1px;font-size:65px;font-weight:normal;letter-spacing:3.46px;font-style:normal">Edward Rullman</div>
<div class="ld" style="left:1688.0px;top:2088.1px;width:192.0px;background-size:32.00px 32.0px"></div>
<div class="ld" style="left:1880.0px;top:2088.1px;width:192.0px;background-size:32.00px 32.0px"></div>
<div class="ld" style="left:2072.0px;top:2088.1px;width:96.0px;background-size:32.00px 32.0px"></div>
<div class="t" style="left:2198.0px;top:2055.1px;font-size:65px;font-weight:normal;letter-spacing:3.28px;font-style:normal">Night Watch Treasurer’s Office</div>
<div class="ld" style="left:3124.5px;top:2088.1px;width:192.0px;background-size:32.00px 32.0px"></div>
<div class="ld" style="left:3316.5px;top:2088.1px;width:192.0px;background-size:32.00px 32.0px"></div>
<div class="ld" style="left:3508.5px;top:2088.1px;width:128.0px;background-size:32.00px 32.0px"></div>
<div class="ld" style="left:3656.0px;top:2088.1px;width:192.0px;background-size:32.00px 32.0px"></div>
<div class="ld" style="left:3848.0px;top:2088.1px;width:128.0px;background-size:32.00px 32.0px"></div>
<div class="t r nb" style="right:613.0px;top:2056.8px;font-size:63px;font-weight:normal;letter-spacing:0.0px">90</div>
<div class="t r nb" style="right:516.0px;top:2056.8px;font-size:63px;font-weight:normal;letter-spacing:0.0px">00</div>
<div class="t" style="left:458.0px;top:2118.9px;font-size:65px;font-weight:normal;letter-spacing:2.25px;font-style:normal">March</div>
<div class="t n" style="left:665.0px;top:2120.6px;font-size:63px;font-weight:normal;letter-spacing:0.0px;font-style:normal">21</div>
<div class="ld" style="left:721.4px;top:2151.9px;width:31.1px;background-size:31.14px 32.0px"></div>
<div class="ld" style="left:783.7px;top:2151.9px;width:186.9px;background-size:31.14px 32.0px"></div>
<div class="t r n" style="right:3681.0px;top:2120.6px;font-size:63px;font-weight:normal;letter-spacing:0.0px">601</div>
<div class="t" style="left:1202.0px;top:2118.9px;font-size:65px;font-weight:normal;letter-spacing:3.33px;font-style:normal">John N. Jones</div>
<div class="ld" style="left:1624.0px;top:2151.9px;width:192.0px;background-size:32.00px 32.0px"></div>
<div class="ld" style="left:1816.0px;top:2151.9px;width:32.0px;background-size:32.00px 32.0px"></div>
<div class="ld" style="left:1880.0px;top:2151.9px;width:192.0px;background-size:32.00px 32.0px"></div>
<div class="ld" style="left:2072.0px;top:2151.9px;width:96.0px;background-size:32.00px 32.0px"></div>
<div class="t" style="left:2198.0px;top:2118.9px;font-size:65px;font-weight:normal;letter-spacing:2.33px;font-style:normal">Postage</div>
<div class="ld" style="left:2420.5px;top:2151.9px;width:192.0px;background-size:32.00px 32.0px"></div>
<div class="ld" style="left:2612.5px;top:2151.9px;width:192.0px;background-size:32.00px 32.0px"></div>
<div class="ld" style="left:2804.5px;top:2151.9px;width:192.0px;background-size:32.00px 32.0px"></div>
<div class="ld" style="left:2996.5px;top:2151.9px;width:192.0px;background-size:32.00px 32.0px"></div>
<div class="ld" style="left:3188.5px;top:2151.9px;width:192.0px;background-size:32.00px 32.0px"></div>
<div class="ld" style="left:3380.5px;top:2151.9px;width:192.0px;background-size:32.00px 32.0px"></div>
<div class="ld" style="left:3572.5px;top:2151.9px;width:64.0px;background-size:32.00px 32.0px"></div>
<div class="ld" style="left:3656.0px;top:2151.9px;width:192.0px;background-size:32.00px 32.0px"></div>
<div class="ld" style="left:3848.0px;top:2151.9px;width:128.0px;background-size:32.00px 32.0px"></div>
<div class="t r nb" style="right:613.0px;top:2120.6px;font-size:63px;font-weight:normal;letter-spacing:0.0px">751</div>
<div class="t r nb" style="right:516.0px;top:2120.6px;font-size:63px;font-weight:normal;letter-spacing:0.0px">76</div>
<div class="t" style="left:458.0px;top:2182.8px;font-size:65px;font-weight:normal;letter-spacing:2.25px;font-style:normal">March</div>
<div class="t n" style="left:667.3px;top:2184.4px;font-size:63px;font-weight:normal;letter-spacing:0.0px;font-style:normal">11</div>
<div class="ld" style="left:721.4px;top:2215.7px;width:186.9px;background-size:31.14px 32.0px"></div>
<div class="ld" style="left:908.3px;top:2215.7px;width:62.3px;background-size:31.14px 32.0px"></div>
<div class="t r n" style="right:3681.0px;top:2184.4px;font-size:63px;font-weight:normal;letter-spacing:0.0px">602</div>
<div class="t" style="left:1202.0px;top:2182.8px;font-size:65px;font-weight:normal;letter-spacing:1.6px;font-style:normal">Wm. B. Keen</div>
<div class="ld" style="left:1592.0px;top:2215.7px;width:192.0px;background-size:32.00px 32.0px"></div>
<div class="ld" style="left:1784.0px;top:2215.7px;width:192.0px;background-size:32.00px 32.0px"></div>
<div class="ld" style="left:1976.0px;top:2215.7px;width:192.0px;background-size:32.00px 32.0px"></div>
<div class="t" style="left:2198.0px;top:2182.8px;font-size:65px;font-weight:normal;letter-spacing:3.53px;font-style:normal">Revised Statutes</div>
<div class="ld" style="left:2676.5px;top:2215.7px;width:192.0px;background-size:32.00px 32.0px"></div>
<div class="ld" style="left:2868.5px;top:2215.7px;width:192.0px;background-size:32.00px 32.0px"></div>
<div class="ld" style="left:3060.5px;top:2215.7px;width:32.0px;background-size:32.00px 32.0px"></div>
<div class="ld" style="left:3124.5px;top:2215.7px;width:192.0px;background-size:32.00px 32.0px"></div>
<div class="ld" style="left:3316.5px;top:2215.7px;width:192.0px;background-size:32.00px 32.0px"></div>
<div class="ld" style="left:3508.5px;top:2215.7px;width:128.0px;background-size:32.00px 32.0px"></div>
<div class="ld" style="left:3656.0px;top:2215.7px;width:192.0px;background-size:32.00px 32.0px"></div>
<div class="ld" style="left:3848.0px;top:2215.7px;width:128.0px;background-size:32.00px 32.0px"></div>
<div class="t r nb" style="right:613.0px;top:2184.4px;font-size:63px;font-weight:normal;letter-spacing:0.0px">16,400</div>
<div class="t r nb" style="right:516.0px;top:2184.4px;font-size:63px;font-weight:normal;letter-spacing:0.0px">00</div>
<div class="t" style="left:458.0px;top:2246.6px;font-size:65px;font-weight:normal;letter-spacing:2.25px;font-style:normal">March</div>
<div class="t n" style="left:665.0px;top:2248.3px;font-size:63px;font-weight:normal;letter-spacing:0.0px;font-style:normal">12</div>
<div class="ld" style="left:721.4px;top:2279.6px;width:186.9px;background-size:31.14px 32.0px"></div>
<div class="ld" style="left:908.3px;top:2279.6px;width:62.3px;background-size:31.14px 32.0px"></div>
<div class="t r n" style="right:3681.0px;top:2248.3px;font-size:63px;font-weight:normal;letter-spacing:0.0px">603</div>
<div class="t" style="left:1202.0px;top:2246.7px;font-size:65px;font-weight:normal;letter-spacing:2.87px;font-style:normal">Elijah M. Haines</div>
<div class="ld" style="left:1688.0px;top:2279.6px;width:192.0px;background-size:32.00px 32.0px"></div>
<div class="ld" style="left:1880.0px;top:2279.6px;width:192.0px;background-size:32.00px 32.0px"></div>
<div class="ld" style="left:2072.0px;top:2279.6px;width:96.0px;background-size:32.00px 32.0px"></div>
<div class="t" style="left:2198.0px;top:2246.7px;font-size:65px;font-weight:normal;letter-spacing:3.62px;font-style:normal">Town Laws</div>
<div class="ld" style="left:2548.5px;top:2279.6px;width:192.0px;background-size:32.00px 32.0px"></div>
<div class="ld" style="left:2740.5px;top:2279.6px;width:192.0px;background-size:32.00px 32.0px"></div>
<div class="ld" style="left:2932.5px;top:2279.6px;width:192.0px;background-size:32.00px 32.0px"></div>
<div class="ld" style="left:3124.5px;top:2279.6px;width:192.0px;background-size:32.00px 32.0px"></div>
<div class="ld" style="left:3316.5px;top:2279.6px;width:192.0px;background-size:32.00px 32.0px"></div>
<div class="ld" style="left:3508.5px;top:2279.6px;width:128.0px;background-size:32.00px 32.0px"></div>
<div class="ld" style="left:3656.0px;top:2279.6px;width:192.0px;background-size:32.00px 32.0px"></div>
<div class="ld" style="left:3848.0px;top:2279.6px;width:128.0px;background-size:32.00px 32.0px"></div>
<div class="t r nb" style="right:613.0px;top:2248.3px;font-size:63px;font-weight:normal;letter-spacing:0.0px">750</div>
<div class="t r nb" style="right:516.0px;top:2248.3px;font-size:63px;font-weight:normal;letter-spacing:0.0px">00</div>
<div class="t" style="left:458.0px;top:2310.4px;font-size:65px;font-weight:normal;letter-spacing:2.25px;font-style:normal">March</div>
<div class="t n" style="left:696.5px;top:2312.2px;font-size:63px;font-weight:normal;letter-spacing:0.0px;font-style:normal">3</div>
<div class="ld" style="left:721.4px;top:2343.4px;width:186.9px;background-size:31.14px 32.0px"></div>
<div class="ld" style="left:908.3px;top:2343.5px;width:62.3px;background-size:31.14px 32.0px"></div>
<div class="t r n" style="right:3681.0px;top:2312.3px;font-size:63px;font-weight:normal;letter-spacing:0.0px">604</div>
<div class="t" style="left:1202.0px;top:2310.6px;font-size:65px;font-weight:normal;letter-spacing:3.96px;font-style:normal">Ezra S. Carr</div>
<div class="ld" style="left:1592.0px;top:2343.6px;width:32.0px;background-size:32.00px 32.0px"></div>
<div class="ld" style="left:1656.0px;top:2343.6px;width:192.0px;background-size:32.00px 32.0px"></div>
<div class="ld" style="left:1848.0px;top:2343.6px;width:192.0px;background-size:32.00px 32.0px"></div>
<div class="ld" style="left:2040.0px;top:2343.6px;width:128.0px;background-size:32.00px 32.0px"></div>
<div class="t" style="left:2198.0px;top:2310.6px;font-size:65px;font-weight:normal;letter-spacing:2.5px;font-style:normal">Geological Survey</div>
<div class="ld" style="left:2728.0px;top:2343.6px;width:192.0px;background-size:32.00px 32.0px"></div>
<div class="ld" style="left:2920.0px;top:2343.6px;width:192.0px;background-size:32.00px 32.0px"></div>
<div class="ld" style="left:3112.0px;top:2343.6px;width:192.0px;background-size:32.00px 32.0px"></div>
<div class="ld" style="left:3304.0px;top:2343.6px;width:192.0px;background-size:32.00px 32.0px"></div>
<div class="ld" style="left:3496.0px;top:2343.6px;width:96.0px;background-size:32.00px 32.0px"></div>
<div class="ld" style="left:3656.0px;top:2343.6px;width:192.0px;background-size:32.00px 32.0px"></div>
<div class="ld" style="left:3848.0px;top:2343.5px;width:128.0px;background-size:32.00px 32.0px"></div>
<div class="t r nb" style="right:613.0px;top:2312.2px;font-size:63px;font-weight:normal;letter-spacing:0.0px">500</div>
<div class="t r nb" style="right:516.0px;top:2312.1px;font-size:63px;font-weight:normal;letter-spacing:0.0px">00</div>
<div class="t" style="left:458.0px;top:2374.2px;font-size:65px;font-weight:normal;letter-spacing:2.25px;font-style:normal">March</div>
<div class="t n" style="left:665.0px;top:2376.1px;font-size:63px;font-weight:normal;letter-spacing:0.0px;font-style:normal">10</div>
<div class="ld" style="left:721.4px;top:2407.4px;width:186.9px;background-size:31.14px 32.0px"></div>
<div class="ld" style="left:908.3px;top:2407.5px;width:62.3px;background-size:31.14px 32.0px"></div>
<div class="t r n" style="right:3681.0px;top:2376.3px;font-size:63px;font-weight:normal;letter-spacing:0.0px">605</div>
<div class="t" style="left:1202.0px;top:2374.7px;font-size:65px;font-weight:normal;letter-spacing:3.08px;font-style:normal">Edward Daniels</div>
<div class="ld" style="left:1688.0px;top:2407.6px;width:192.0px;background-size:32.00px 32.0px"></div>
<div class="ld" style="left:1880.0px;top:2407.6px;width:192.0px;background-size:32.00px 32.0px"></div>
<div class="ld" style="left:2072.0px;top:2407.6px;width:96.0px;background-size:32.00px 32.0px"></div>
<div class="ld" style="left:2190.0px;top:2407.6px;width:192.0px;background-size:32.00px 32.0px"></div>
<div class="t" style="left:2383.0px;top:2374.7px;font-size:65px;font-weight:normal;letter-spacing:3.0px;font-style:normal">do</div>
<div class="ld" style="left:2449.0px;top:2407.6px;width:128.0px;background-size:32.00px 32.0px"></div>
<div class="t" style="left:2578.0px;top:2374.7px;font-size:65px;font-weight:normal;letter-spacing:3.0px;font-style:normal">do</div>
<div class="ld" style="left:2676.5px;top:2407.6px;width:192.0px;background-size:32.00px 32.0px"></div>
<div class="ld" style="left:2868.5px;top:2407.6px;width:192.0px;background-size:32.00px 32.0px"></div>
<div class="ld" style="left:3060.5px;top:2407.6px;width:64.0px;background-size:32.00px 32.0px"></div>
<div class="ld" style="left:3156.5px;top:2407.6px;width:192.0px;background-size:32.00px 32.0px"></div>
<div class="ld" style="left:3348.5px;top:2407.6px;width:64.0px;background-size:32.00px 32.0px"></div>
<div class="ld" style="left:3444.5px;top:2407.6px;width:192.0px;background-size:32.00px 32.0px"></div>
<div class="ld" style="left:3656.0px;top:2407.6px;width:192.0px;background-size:32.00px 32.0px"></div>
<div class="ld" style="left:3848.0px;top:2407.6px;width:128.0px;background-size:32.00px 32.0px"></div>
<div class="t r nb" style="right:613.0px;top:2376.1px;font-size:63px;font-weight:normal;letter-spacing:0.0px">500</div>
<div class="t r nb" style="right:516.0px;top:2376.0px;font-size:63px;font-weight:normal;letter-spacing:0.0px">00</div>
<div class="t" style="left:458.0px;top:2438.0px;font-size:65px;font-weight:normal;letter-spacing:2.25px;font-style:normal">March</div>
<div class="t n" style="left:665.0px;top:2440.3px;font-size:63px;font-weight:normal;letter-spacing:0.0px;font-style:normal">30</div>
<div class="ld" style="left:721.4px;top:2471.4px;width:186.9px;background-size:31.14px 32.0px"></div>
<div class="ld" style="left:908.3px;top:2471.8px;width:62.3px;background-size:31.14px 32.0px"></div>
<div class="t r n" style="right:3681.0px;top:2440.6px;font-size:63px;font-weight:normal;letter-spacing:0.0px">606</div>
<div class="t" style="left:1202.0px;top:2439.0px;font-size:65px;font-weight:normal;letter-spacing:3.11px;font-style:normal">James Hall</div>
<div class="ld" style="left:1528.0px;top:2471.9px;width:192.0px;background-size:32.00px 32.0px"></div>
<div class="ld" style="left:1720.0px;top:2471.9px;width:192.0px;background-size:32.00px 32.0px"></div>
<div class="ld" style="left:1912.0px;top:2471.9px;width:192.0px;background-size:32.00px 32.0px"></div>
<div class="ld" style="left:2104.0px;top:2471.9px;width:64.0px;background-size:32.00px 32.0px"></div>
<div class="ld" style="left:2190.0px;top:2471.9px;width:192.0px;background-size:32.00px 32.0px"></div>
<div class="t" style="left:2383.0px;top:2439.0px;font-size:65px;font-weight:normal;letter-spacing:3.0px;font-style:normal">do</div>
<div class="ld" style="left:2449.0px;top:2471.9px;width:128.0px;background-size:32.00px 32.0px"></div>
<div class="t" style="left:2578.0px;top:2439.0px;font-size:65px;font-weight:normal;letter-spacing:3.0px;font-style:normal">do</div>
<div class="ld" style="left:2676.5px;top:2471.9px;width:192.0px;background-size:32.00px 32.0px"></div>
<div class="ld" style="left:2868.5px;top:2471.9px;width:192.0px;background-size:32.00px 32.0px"></div>
<div class="ld" style="left:3060.5px;top:2471.9px;width:192.0px;background-size:32.00px 32.0px"></div>
<div class="ld" style="left:3252.5px;top:2471.9px;width:192.0px;background-size:32.00px 32.0px"></div>
<div class="ld" style="left:3444.5px;top:2471.9px;width:192.0px;background-size:32.00px 32.0px"></div>
<div class="ld" style="left:3656.0px;top:2471.9px;width:192.0px;background-size:32.00px 32.0px"></div>
<div class="ld" style="left:3848.0px;top:2471.8px;width:128.0px;background-size:32.00px 32.0px"></div>
<div class="t r nb" style="right:613.0px;top:2440.2px;font-size:63px;font-weight:normal;letter-spacing:0.0px">1,000</div>
<div class="t r nb" style="right:516.0px;top:2440.1px;font-size:63px;font-weight:normal;letter-spacing:0.0px">00</div>
<div class="t" style="left:458.0px;top:2501.8px;font-size:65px;font-weight:normal;letter-spacing:2.25px;font-style:normal">March</div>
<div class="t n" style="left:696.5px;top:2504.9px;font-size:63px;font-weight:normal;letter-spacing:0.0px;font-style:normal">5</div>
<div class="ld" style="left:721.4px;top:2535.7px;width:186.9px;background-size:31.14px 32.0px"></div>
<div class="ld" style="left:908.3px;top:2536.4px;width:62.3px;background-size:31.14px 32.0px"></div>
<div class="t r n" style="right:3681.0px;top:2505.4px;font-size:63px;font-weight:normal;letter-spacing:0.0px">607</div>
<div class="t" style="left:1202.0px;top:2503.8px;font-size:65px;font-weight:normal;letter-spacing:4.14px;font-style:normal">John Fitzgerald</div>
<div class="ld" style="left:1656.0px;top:2536.7px;width:192.0px;background-size:32.00px 32.0px"></div>
<div class="ld" style="left:1848.0px;top:2536.7px;width:192.0px;background-size:32.00px 32.0px"></div>
<div class="ld" style="left:2040.0px;top:2536.7px;width:128.0px;background-size:32.00px 32.0px"></div>
<div class="t" style="left:2198.0px;top:2503.8px;font-size:65px;font-weight:normal;letter-spacing:3.63px;font-style:normal">Witness Land Grant Investigation</div>
<div class="ld" style="left:3188.5px;top:2536.7px;width:192.0px;background-size:32.00px 32.0px"></div>
<div class="ld" style="left:3380.5px;top:2536.7px;width:96.0px;background-size:32.00px 32.0px"></div>
<div class="ld" style="left:3508.5px;top:2536.7px;width:128.0px;background-size:32.00px 32.0px"></div>
<div class="ld" style="left:3656.0px;top:2536.7px;width:192.0px;background-size:32.00px 32.0px"></div>
<div class="ld" style="left:3848.0px;top:2536.4px;width:128.0px;background-size:32.00px 32.0px"></div>
<div class="t r nb" style="right:613.0px;top:2504.5px;font-size:63px;font-weight:normal;letter-spacing:0.0px">26</div>
<div class="t r nb" style="right:516.0px;top:2504.3px;font-size:63px;font-weight:normal;letter-spacing:0.0px">00</div>
<div class="t" style="left:458.0px;top:2565.7px;font-size:65px;font-weight:normal;letter-spacing:2.25px;font-style:normal">March</div>
<div class="t n" style="left:696.5px;top:2570.1px;font-size:63px;font-weight:normal;letter-spacing:0.0px;font-style:normal">7</div>
<div class="ld" style="left:721.4px;top:2600.3px;width:155.7px;background-size:31.14px 32.0px"></div>
<div class="ld" style="left:908.3px;top:2601.8px;width:62.3px;background-size:31.14px 32.0px"></div>
<div class="t r n" style="right:3681.0px;top:2571.2px;font-size:63px;font-weight:normal;letter-spacing:0.0px">608</div>
<div class="t" style="left:1202.0px;top:2569.6px;font-size:65px;font-weight:normal;letter-spacing:4.0px;font-style:normal">Byron Kilbourn</div>
<div class="ld" style="left:1688.0px;top:2602.5px;width:192.0px;background-size:32.00px 32.0px"></div>
<div class="ld" style="left:1880.0px;top:2602.5px;width:192.0px;background-size:32.00px 32.0px"></div>
<div class="ld" style="left:2072.0px;top:2602.5px;width:96.0px;background-size:32.00px 32.0px"></div>
<div class="t" style="left:2198.0px;top:2569.6px;font-size:65px;font-weight:normal;letter-spacing:2.46px;font-style:normal">Witness before Legislative Committee</div>
<div class="ld" style="left:3284.5px;top:2602.5px;width:192.0px;background-size:32.00px 32.0px"></div>
<div class="ld" style="left:3476.5px;top:2602.5px;width:160.0px;background-size:32.00px 32.0px"></div>
<div class="ld" style="left:3656.0px;top:2602.5px;width:192.0px;background-size:32.00px 32.0px"></div>
<div class="ld" style="left:3848.0px;top:2602.0px;width:128.0px;background-size:32.00px 32.0px"></div>
<div class="t r nb" style="right:613.0px;top:2569.4px;font-size:63px;font-weight:normal;letter-spacing:0.0px">23</div>
<div class="t r nb" style="right:516.0px;top:2568.9px;font-size:63px;font-weight:normal;letter-spacing:0.0px">20</div>
<div class="t" style="left:458.0px;top:2629.6px;font-size:65px;font-weight:normal;letter-spacing:2.25px;font-style:normal">March</div>
<div class="t n" style="left:665.0px;top:2636.0px;font-size:63px;font-weight:normal;letter-spacing:0.0px;font-style:normal">14</div>
<div class="ld" style="left:721.4px;top:2666.1px;width:186.9px;background-size:31.14px 32.0px"></div>
<div class="ld" style="left:908.3px;top:2668.9px;width:62.3px;background-size:31.14px 32.0px"></div>
<div class="t r n" style="right:3681.0px;top:2639.0px;font-size:63px;font-weight:normal;letter-spacing:0.0px">609</div>
<div class="t" style="left:1202.0px;top:2637.4px;font-size:65px;font-weight:normal;letter-spacing:3.36px;font-style:normal">Moses M. Strong</div>
<div class="ld" style="left:1720.0px;top:2670.3px;width:192.0px;background-size:32.00px 32.0px"></div>
<div class="ld" style="left:1912.0px;top:2670.3px;width:192.0px;background-size:32.00px 32.0px"></div>
<div class="ld" style="left:2104.0px;top:2670.3px;width:64.0px;background-size:32.00px 32.0px"></div>
<div class="ld" style="left:2197.0px;top:2670.3px;width:192.0px;background-size:32.00px 32.0px"></div>
<div class="ld" style="left:2389.0px;top:2670.3px;width:128.0px;background-size:32.00px 32.0px"></div>
<div class="t" style="left:2518.0px;top:2637.4px;font-size:65px;font-weight:normal;letter-spacing:3.0px;font-style:normal">do</div>
<div class="ld" style="left:2525.0px;top:2670.3px;width:192.0px;background-size:32.00px 32.0px"></div>
<div class="ld" style="left:2717.0px;top:2670.3px;width:192.0px;background-size:32.00px 32.0px"></div>
<div class="ld" style="left:2909.0px;top:2670.3px;width:192.0px;background-size:32.00px 32.0px"></div>
<div class="t" style="left:3102.0px;top:2637.4px;font-size:65px;font-weight:normal;letter-spacing:3.0px;font-style:normal">do</div>
<div class="ld" style="left:3188.5px;top:2670.3px;width:192.0px;background-size:32.00px 32.0px"></div>
<div class="ld" style="left:3380.5px;top:2670.3px;width:192.0px;background-size:32.00px 32.0px"></div>
<div class="ld" style="left:3572.5px;top:2670.3px;width:64.0px;background-size:32.00px 32.0px"></div>
<div class="ld" style="left:3656.0px;top:2670.3px;width:192.0px;background-size:32.00px 32.0px"></div>
<div class="ld" style="left:3848.0px;top:2669.2px;width:128.0px;background-size:32.00px 32.0px"></div>
<div class="t r nb" style="right:613.0px;top:2635.3px;font-size:63px;font-weight:normal;letter-spacing:0.0px">2</div>
<div class="t r nb" style="right:516.0px;top:2634.3px;font-size:63px;font-weight:normal;letter-spacing:0.0px">00</div>
<div class="t" style="left:4414px;top:1535.5px;font-size:94px;font-weight:normal;-webkit-text-stroke:2.6px #000;transform-origin:0 0;transform:translate(88px,0) rotate(90deg) scaleX(0.9)">96</div>
<div class="sp" style="left:2720px;top:2749px;width:14px;height:13px;border-radius:50%"></div>
<div class="sp" style="left:4792px;top:1877px;width:25px;height:9px;border-radius:40%"></div>
<div class="sp" style="left:3552px;top:249px;width:6px;height:6px;border-radius:50%"></div>
<div class="sp" style="left:4536px;top:322px;width:6px;height:5px;border-radius:50%"></div>
<div class="sp" style="left:1136px;top:405px;width:5px;height:5px;border-radius:50%"></div>
<div class="sp" style="left:400px;top:2788px;width:12px;height:4px;border-radius:50%"></div>
<div class="sp" style="left:4385px;top:2759px;width:7px;height:4px;border-radius:50%"></div>
<div class="sp" style="left:3897px;top:2846px;width:6px;height:5px;border-radius:50%"></div>
<div class="sp" style="left:4572px;top:2826px;width:10px;height:4px;border-radius:50%"></div>
</div></body></html>
